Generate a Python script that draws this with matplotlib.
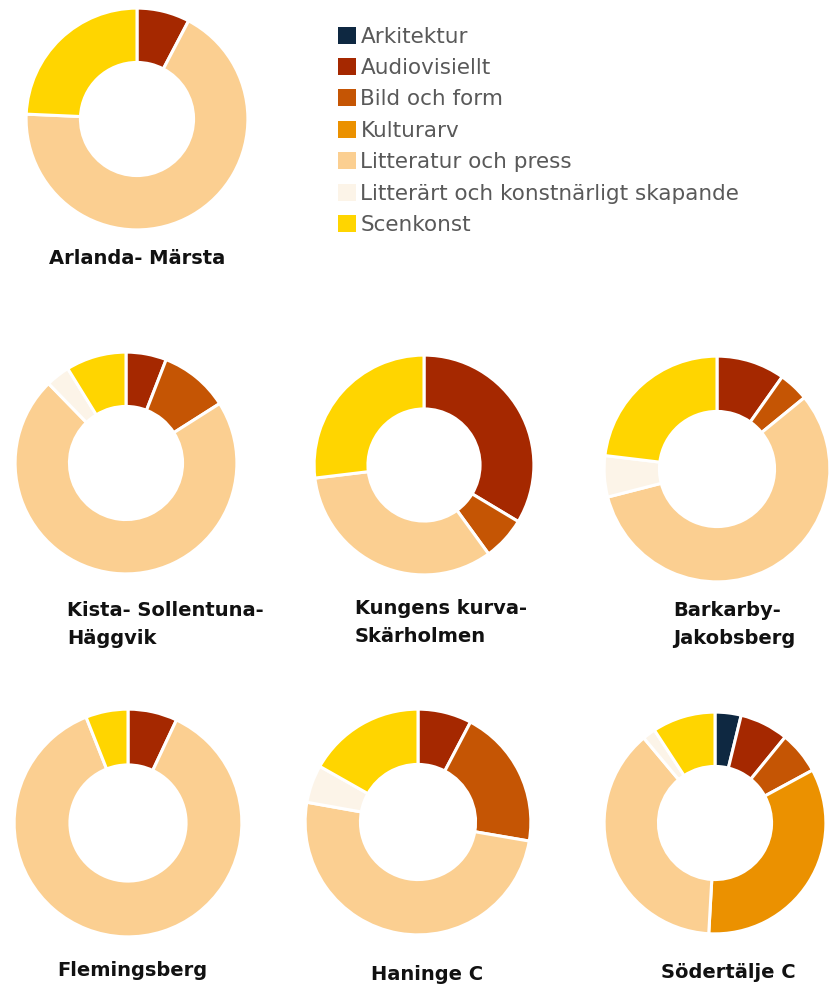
import numpy as np
import matplotlib.pyplot as plt
from matplotlib.patches import Patch

# Andel per kulturområde (%), en post per region
regioner = ["Arlanda- Märsta", "Kista- Sollentuna-\nHäggvik", "Kungens kurva-\nSkärholmen",
            "Barkarby-\nJakobsberg", "Flemingsberg", "Haninge C", "Södertälje C"]
kategorier = ["Arkitektur", "Audiovisiellt", "Bild och form", "Kulturarv",
              "Litteratur och press", "Litterärt och konstnärligt skapande", "Scenkonst"]
arkitektur = [0, 0, 0, 0, 0, 0, 3.8]
audiovisuellt = [7.7, 5.9, 33.6, 9.8, 7.0, 7.7, 7.1]
bild_och_form = [0, 10.1, 6.4, 4.3, 0, 20.0, 6.2]
kulturarv = [0, 0, 0, 0, 0, 0, 33.8]
litteratur = [68.0, 71.7, 33.1, 56.9, 87.0, 50.1, 38.0]
litterart = [0, 3.5, 0, 5.9, 0, 5.4, 1.9]
scenkonst = [24.3, 8.8, 26.9, 23.1, 6.0, 16.8, 9.2]

farger = ["#0E2841", "#A52800", "#C55504", "#EB9100", "#FBCF91", "#FCF4E8", "#FFD500"]

W, H = 839, 985
fig = plt.figure(figsize=(W / 100, H / 100), dpi=100)

# placering i pixlar: (cx, cy, r) och etikett (x, y)
pos = [(137, 119, 112), (126, 463, 112), (424, 465, 111), (717, 469, 114),
       (128, 823, 115), (418, 822, 114), (715, 823, 112)]
etikett = [(49, 258), (67, 624), (355, 623), (673, 624), (57, 971), (371, 975), (661, 972)]

serier = [arkitektur, audiovisuellt, bild_och_form, kulturarv, litteratur, litterart, scenkonst]

for i, namn in enumerate(regioner):
    cx, cy, r = pos[i]
    ax = fig.add_axes([(cx - r) / W, 1 - (cy + r) / H, 2 * r / W, 2 * r / H])
    vals = [s[i] for s in serier]
    v = [x for x in vals if x > 0]
    c = [farger[k] for k, x in enumerate(vals) if x > 0]
    ax.pie(v, colors=c, startangle=90, counterclock=False, radius=1,
           wedgeprops=dict(width=0.49, edgecolor="white", linewidth=2.2))
    ax.set_xlim(-1.01, 1.01)
    ax.set_ylim(-1.01, 1.01)
    ax.axis("off")
    tx, ty = etikett[i]
    fig.text(tx / W, 1 - ty / H, namn, fontsize=14, fontweight="bold",
             ha="left", va="center", linespacing=1.6, color="#111111")

handles = [Patch(facecolor=f, edgecolor="none") for f in farger]
fig.legend(handles, kategorier, loc="upper left", bbox_to_anchor=(329 / W, 1 - 18 / H),
           frameon=False, fontsize=15.5, labelcolor="#595959", handlelength=0.84,
           handleheight=0.84, handletextpad=0.22, labelspacing=0.53, borderaxespad=0)

plt.savefig("out.png", dpi=100)
plt.close()
